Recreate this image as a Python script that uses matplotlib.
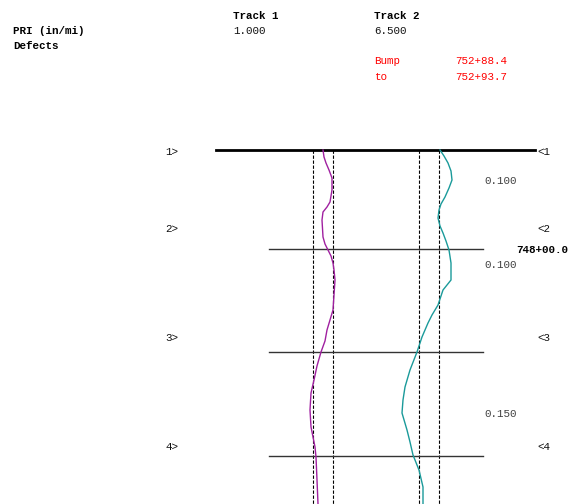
import matplotlib
matplotlib.use("Agg")
import matplotlib.pyplot as plt

# profile traces: (offset, distance)
track1_dist = [150, 157, 163, 170, 178, 190, 202, 207, 212, 220, 237, 244, 250,
               256, 263, 270, 280, 295, 310, 320, 330, 341, 352, 366, 380, 393,
               410, 427, 437, 447, 457, 480, 504]
track1_off = [323, 324, 326, 329, 332, 332, 330, 327, 323, 322, 323, 325, 328,
              331, 333, 334, 335, 334, 333, 330, 327, 325, 321, 317, 314, 311,
              310, 311, 313, 315, 316, 317, 318]
track2_dist = [150, 156, 163, 171, 180, 188, 197, 204, 210, 218, 226, 233, 241,
               250, 263, 280, 290, 305, 315, 323, 337, 352, 370, 387, 400, 413,
               430, 442, 455, 470, 487, 504]
track2_off = [440, 444, 448, 451, 452, 449, 445, 441, 439, 438, 440, 443, 446,
              449, 451, 451, 443, 438, 432, 428, 422, 417, 410, 405, 403, 402,
              407, 410, 413, 419, 423, 423]

track_bands = [(313, 333), (419, 439)]
section_lines = [150, 249, 352, 456]
section_marks = ["1", "2", "3", "4"]
mark_rows = [152, 229, 338, 447]
roughness_vals = ["0.100", "0.100", "0.150"]
roughness_rows = [181, 265, 414]

track_names = ["Track 1", "Track 2"]
pri_values = ["1.000", "6.500"]
bump_start = "752+88.4"
bump_end = "752+93.7"
station_label = "748+00.0"

font = {"family": ["Liberation Mono", "DejaVu Sans Mono"], "size": 7.8}

fig = plt.figure(figsize=(5.76, 5.04), dpi=100)
ax = fig.add_axes([0, 0, 1, 1])
ax.set_xlim(0, 576)
ax.set_ylim(504, 0)
ax.axis("off")

# dashed band edges
for lo, hi in track_bands:
    for x in (lo, hi):
        ax.plot([x, x], [section_lines[0], 504], color="black", lw=0.8,
                ls=(0, (3, 1.5)))

# section lines
ax.plot([216, 535], [section_lines[0]] * 2, color="black", lw=2)
for y in section_lines[1:]:
    ax.plot([269, 483], [y, y], color="#333333", lw=1)

ax.plot(track1_off, track1_dist, color="#a020a0", lw=1)
ax.plot(track2_off, track2_dist, color="#1a9a9a", lw=1)

# header text
ax.text(13, 31, "PRI (in/mi)", fontweight="bold", va="center", **font)
ax.text(13, 46, "Defects", fontweight="bold", va="center", **font)
for x, name, val in zip([233, 374], track_names, pri_values):
    ax.text(x, 16, name, fontweight="bold", va="center", **font)
    ax.text(x, 31, val, va="center", color="#111111", **font)
ax.text(374, 61, "Bump", color="red", va="center", **font)
ax.text(455, 61, bump_start, color="red", va="center", **font)
ax.text(374, 77, "to", color="red", va="center", **font)
ax.text(455, 77, bump_end, color="red", va="center", **font)

for m, y in zip(section_marks, mark_rows):
    ax.text(165, y, m + ">", va="center", color="#111111", **font)
    ax.text(537, y, "<" + m, va="center", color="#111111", **font)
for v, y in zip(roughness_vals, roughness_rows):
    ax.text(484, y, v, color="#404040", va="center", **font)
ax.text(516, 250, station_label, fontweight="bold", va="center", **font)

fig.savefig("out.png", dpi=100)
